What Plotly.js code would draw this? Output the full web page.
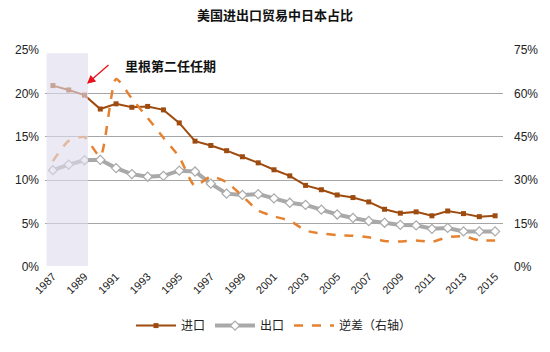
<!DOCTYPE html>
<html>
<head>
<meta charset="utf-8">
<script src="https://cdn.plot.ly/plotly-3.0.1.min.js"></script>
<style>html,body{margin:0;padding:0;background:#fff}#chart{width:550px;height:352px}</style>
</head>
<body>
<div id="chart"></div>
<script>
var years = [1987,1988,1989,1990,1991,1992,1993,1994,1995,1996,1997,1998,1999,2000,2001,2002,2003,2004,2005,2006,2007,2008,2009,2010,2011,2012,2013,2014,2015];
var imports = [20.9,20.4,19.8,18.2,18.8,18.4,18.5,18.1,16.6,14.5,14.0,13.4,12.7,12.0,11.2,10.5,9.4,8.9,8.3,8.0,7.5,6.65,6.2,6.35,5.9,6.45,6.15,5.8,5.9];
var exportsV = [11.15,11.8,12.3,12.35,11.4,10.7,10.4,10.5,11.1,11.0,9.6,8.45,8.3,8.4,7.9,7.4,7.15,6.6,6.05,5.65,5.3,5.1,4.85,4.8,4.4,4.5,4.1,4.1,4.1];
var deficit = [36.6,43.6,44.9,38.2,65.0,58.2,51.5,44.7,38.0,28.0,31.3,29.3,24.5,19.5,17.5,16.0,12.6,11.6,11.0,10.8,10.3,9.0,8.8,9.2,8.7,10.3,10.6,9.2,9.2];
var tickYears = [1987,1989,1991,1993,1995,1997,1999,2001,2003,2005,2007,2009,2011,2013,2015];
var leftTicks = [0,5,10,15,20,25];
var rightTicks = [0,15,30,45,60,75];
var names = ['进口','出口','逆差（右轴）'];
var titleText = '美国进出口贸易中日本占比';
var noteText = '里根第二任任期';

var cjk = '"Noto Sans CJK SC", sans-serif';
var latin = '"Liberation Sans", Arial, sans-serif';

var traces = [
  {x: years, y: imports, name: names[0], type: 'scatter', mode: 'lines+markers',
   line: {color: '#9e4b0f', width: 2}, marker: {symbol: 'square', size: 5, color: '#9e4b0f'}},
  {x: years, y: exportsV, name: names[1], type: 'scatter', mode: 'lines+markers',
   line: {color: '#a9a9a9', width: 4}, marker: {symbol: 'diamond', size: 7, color: '#ffffff', line: {color: '#a9a9a9', width: 1.2}}},
  {x: years, y: deficit, name: names[2], type: 'scatter', mode: 'lines', yaxis: 'y2',
   line: {color: '#e5812f', width: 2.5, dash: 'dash', shape: 'spline', smoothing: 0.6}}
];

var layout = {
  width: 550, height: 352,
  margin: {l: 45, r: 47, t: 50, b: 80},
  paper_bgcolor: '#fff', plot_bgcolor: '#fff',
  font: {family: latin, size: 12, color: '#222'},
  title: {text: titleText, x: 0.5, xanchor: 'center', y: 0.955, yanchor: 'middle',
          font: {family: cjk, size: 13, color: '#111', weight: 'bold'}},
  showlegend: true,
  legend: {orientation: 'h', x: 0.5, xanchor: 'center', y: -0.27, yanchor: 'middle',
           font: {family: cjk, size: 12, color: '#222'}, traceorder: 'normal', itemwidth: 40},
  xaxis: {type: 'category', tickmode: 'array', tickvals: tickYears, ticktext: tickYears.map(String),
          tickangle: -45, showgrid: false, zeroline: false, showline: false, ticks: '',
          tickfont: {family: latin, size: 11, color: '#222'}, range: [-0.5, years.length - 0.5]},
  yaxis: {range: [0, 25], tickvals: leftTicks, ticktext: leftTicks.map(function(v){return v+'%';}),
          showgrid: true, gridcolor: '#a6a6a6', gridwidth: 1, zeroline: false, showline: false,
          ticks: '', ticklabelstandoff: 5, tickfont: {family: latin, size: 12, color: '#222'}},
  yaxis2: {range: [0, 75], overlaying: 'y', side: 'right', tickvals: rightTicks,
           ticktext: rightTicks.map(function(v){return v+'%';}), showgrid: false, zeroline: false,
           showline: false, ticks: '', ticklabelstandoff: 10, tickfont: {family: latin, size: 12, color: '#222'}},
  shapes: [{type: 'rect', xref: 'x', yref: 'paper', x0: -0.4, x1: 2.22, y0: 0.005, y1: 0.985,
            fillcolor: 'rgba(222,220,236,0.62)', line: {width: 0}, layer: 'above'}],
  annotations: [
    {xref: 'paper', yref: 'paper', x: (123-45)/458, y: (272.3-66)/221.8, xanchor: 'left', yanchor: 'middle',
     text: '<b>' + noteText + '</b>', showarrow: false, font: {family: cjk, size: 13, color: '#111'}},
    {xref: 'paper', yref: 'paper', axref: 'pixel', ayref: 'pixel',
     x: (87-45)/458, y: (272.3-85)/221.8, ax: 23, ay: -20, showarrow: true,
     arrowhead: 2, arrowsize: 1.3, arrowwidth: 1.3, arrowcolor: '#e8121b', text: ''}
  ]
};

Plotly.newPlot('chart', traces, layout, {displayModeBar: false, staticPlot: true});
</script>
</body>
</html>
